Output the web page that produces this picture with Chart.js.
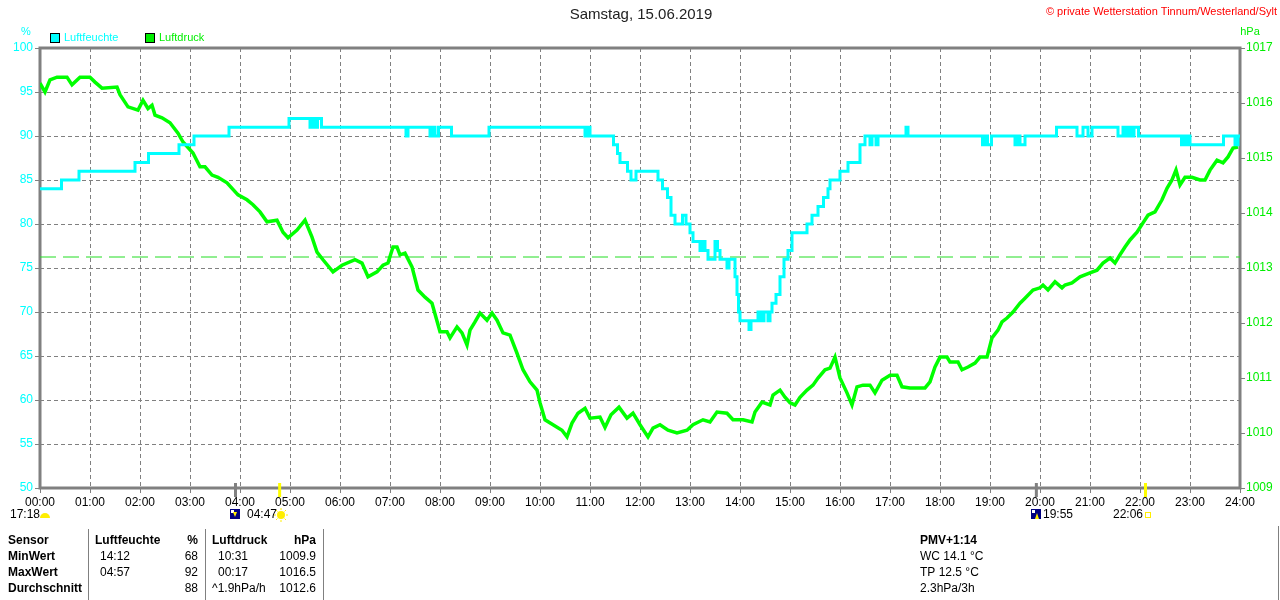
<!DOCTYPE html>
<html>
<head>
<meta charset="utf-8">
<script src="https://cdn.jsdelivr.net/npm/chart.js@4"></script>
<style>
  html, body { margin: 0; padding: 0; background: #fff; }
  #wrap { width: 1280px; height: 600px; position: relative; }
</style>
</head>
<body>
<div id="wrap"><canvas id="chart" width="1280" height="600"></canvas></div>
<script>
// Zeitachse in Stunden (0..24)
const hourTicks = ['00:00','01:00','02:00','03:00','04:00','05:00','06:00','07:00','08:00','09:00','10:00','11:00','12:00',
  '13:00','14:00','15:00','16:00','17:00','18:00','19:00','20:00','21:00','22:00','23:00','24:00'];

// Luftfeuchte (%) - Stufen: Wert gilt ab Zeitpunkt
const humTimes = [0,0.43,0.78,1.9,2.17,2.78,3.08,3.78,4.98,5.4,5.45,5.5,5.55,5.63,7.32,7.36,7.8,7.85,7.9,7.97,8.23,8.98,
  10.9,10.95,11.0,11.47,11.55,11.6,11.75,11.82,11.92,12.36,12.45,12.55,12.62,12.7,12.85,12.92,13.0,13.06,13.2,13.25,13.3,
  13.36,13.5,13.55,13.6,13.74,13.78,13.9,13.94,13.97,14.0,14.18,14.22,14.36,14.42,14.48,14.56,14.6,14.64,14.72,14.8,14.88,
  14.96,15.04,15.34,15.44,15.56,15.67,15.76,15.8,16.0,16.16,16.4,16.5,16.6,16.64,16.72,16.76,17.32,17.36,18.85,18.9,18.95,
  19.03,19.5,19.55,19.6,19.7,20.33,20.74,20.86,20.96,21.04,21.56,21.66,21.72,21.78,21.84,21.88,21.97,22.83,22.88,22.94,
  22.98,23.0,23.67,23.9,23.96,24.0];
const humValues = [84,85,86,87,88,89,90,91,92,91,92,91,92,91,90,91,90,91,90,91,90,91,
  90,91,90,89,88,87,86,85,86,85,84,83,81,80,81,80,79,78,77,78,77,
  76,78,77,76,75,76,74,72,70,69,68,69,70,69,70,69,70,71,72,74,76,
  77,79,80,81,82,83,84,85,86,87,89,90,89,90,89,90,91,90,89,90,89,
  90,89,90,89,90,91,90,91,90,91,90,91,90,91,90,91,90,89,90,89,
  90,89,90,89,90,90];

// Luftdruck (hPa)
const presTimes = [0,0.1,0.2,0.34,0.54,0.64,0.8,1.0,1.1,1.24,1.54,1.6,1.76,1.96,2.06,2.16,2.24,2.3,2.44,2.6,2.76,2.86,3.06,
  3.2,3.3,3.44,3.56,3.74,3.96,4.14,4.26,4.4,4.54,4.74,4.86,4.96,5.14,5.3,5.44,5.54,5.66,5.86,6.04,6.3,6.44,6.56,6.74,6.86,
  6.96,7.06,7.14,7.2,7.3,7.44,7.56,7.7,7.84,8.0,8.14,8.2,8.34,8.44,8.54,8.6,8.7,8.8,8.94,9.04,9.14,9.26,9.4,9.54,9.66,9.8,
  9.94,10.0,10.1,10.26,10.44,10.54,10.64,10.76,10.9,11.0,11.2,11.3,11.42,11.58,11.74,11.86,12.0,12.16,12.26,12.4,12.56,
  12.74,12.94,13.06,13.26,13.4,13.54,13.74,13.86,14.06,14.24,14.3,14.44,14.6,14.66,14.8,14.9,15.0,15.1,15.2,15.34,15.46,
  15.56,15.7,15.8,15.9,16.0,16.14,16.24,16.34,16.46,16.6,16.7,16.84,17.0,17.14,17.24,17.4,17.7,17.8,17.9,18.0,18.14,18.2,
  18.36,18.44,18.56,18.7,18.8,18.94,19.04,19.16,19.24,19.34,19.46,19.6,19.7,19.86,20.0,20.06,20.16,20.3,20.44,20.5,20.64,
  20.8,21.0,21.14,21.26,21.4,21.5,21.6,21.7,21.8,21.94,22.06,22.16,22.3,22.44,22.54,22.64,22.72,22.8,22.9,23.04,23.2,23.3,
  23.4,23.54,23.66,23.76,23.86,23.96];
const presValues = [1016.36,1016.2,1016.42,1016.47,1016.47,1016.33,1016.47,1016.47,1016.38,1016.27,1016.29,1016.15,1015.93,
  1015.87,1016.05,1015.9,1015.96,1015.78,1015.73,1015.64,1015.45,1015.29,1015.09,1014.84,1014.84,1014.69,1014.65,1014.55,
  1014.33,1014.24,1014.15,1014.02,1013.84,1013.87,1013.65,1013.55,1013.69,1013.87,1013.56,1013.29,1013.15,1012.93,1013.05,
  1013.15,1013.09,1012.84,1012.93,1013.05,1013.09,1013.38,1013.38,1013.24,1013.27,1013.02,1012.6,1012.47,1012.36,1011.84,
  1011.84,1011.73,1011.93,1011.82,1011.6,1011.87,1012.02,1012.18,1012.05,1012.18,1012.05,1011.82,1011.78,1011.45,1011.15,
  1010.93,1010.78,1010.55,1010.24,1010.15,1010.05,1009.93,1010.18,1010.36,1010.45,1010.27,1010.29,1010.1,1010.33,1010.47,
  1010.27,1010.36,1010.15,1009.93,1010.09,1010.15,1010.05,1010.0,1010.05,1010.15,1010.24,1010.2,1010.38,1010.36,1010.24,
  1010.24,1010.2,1010.38,1010.56,1010.51,1010.69,1010.78,1010.65,1010.55,1010.51,1010.65,1010.78,1010.87,1011.0,1011.15,
  1011.18,1011.38,1011.0,1010.73,1010.51,1010.84,1010.87,1010.87,1010.73,1010.96,1011.05,1011.05,1010.84,1010.82,1010.82,
  1010.93,1011.2,1011.38,1011.38,1011.29,1011.29,1011.15,1011.2,1011.27,1011.38,1011.38,1011.73,1011.87,1012.02,1012.09,
  1012.2,1012.36,1012.45,1012.6,1012.64,1012.69,1012.6,1012.75,1012.64,1012.69,1012.73,1012.84,1012.91,1012.96,1013.09,
  1013.18,1013.09,1013.24,1013.38,1013.51,1013.65,1013.82,1013.96,1014.02,1014.24,1014.45,1014.6,1014.78,1014.51,1014.65,
  1014.65,1014.6,1014.6,1014.78,1014.96,1014.91,1015.02,1015.18,1015.2];

// Normaldruck-Linie
const normalPressure = 1013.2;

// Sonne / Mond Markierungen (Stunden)
const moonTimes = [3.9, 19.917];
const sunTimes = [4.783, 22.1];

// Tabelle unten
const statRows = ['Sensor', 'MinWert', 'MaxWert', 'Durchschnitt'];
const humStats = [['Luftfeuchte', '%'], ['14:12', '68'], ['04:57', '92'], ['', '88']];
const presStats = [['Luftdruck', 'hPa'], ['10:31', '1009.9'], ['00:17', '1016.5'], ['^1.9hPa/h', '1012.6']];
const extraStats = ['PMV+1:14', 'WC 14.1 °C', 'TP 12.5 °C', '2.3hPa/3h'];

const FONT = '"Liberation Sans", Arial, sans-serif';
const GRID = '#808080';
const CYAN = '#00ffff';
const GREEN = '#00ee00';

const toPoints = (xs, ys) => xs.map((x, i) => ({ x: x, y: ys[i] }));

const decorPlugin = {
    id: 'decor',
    beforeDatasetsDraw(chart) {
        const ctx = chart.ctx;
        const a = chart.chartArea;
        ctx.save();
        ctx.strokeStyle = GRID;
        ctx.lineWidth = 3;
        ctx.strokeRect(a.left, a.top, a.right - a.left, a.bottom - a.top);
        ctx.restore();
    },
    afterDraw(chart) {
        const ctx = chart.ctx;
        const xs = chart.scales.x;
        ctx.save();
        ctx.textBaseline = 'middle';

        // Titel
        ctx.fillStyle = '#222';
        ctx.font = '15px ' + FONT;
        ctx.textAlign = 'center';
        ctx.fillText('Samstag, 15.06.2019', 641, 15);

        // Copyright
        ctx.fillStyle = '#ff0000';
        ctx.font = '11px ' + FONT;
        ctx.textAlign = 'right';
        ctx.fillText('© private Wetterstation Tinnum/Westerland/Sylt', 1277, 12);

        // Einheiten
        ctx.font = '11px ' + FONT;
        ctx.textAlign = 'center';
        ctx.fillStyle = CYAN;
        ctx.fillText('%', 26, 32);
        ctx.fillStyle = GREEN;
        ctx.fillText('hPa', 1250, 32);

        // Legende
        const legend = [[50, CYAN, 'Luftfeuchte'], [145, GREEN, 'Luftdruck']];
        legend.forEach(([lx, col, txt]) => {
            ctx.fillStyle = col;
            ctx.fillRect(lx, 33, 10, 10);
            ctx.strokeStyle = '#000';
            ctx.lineWidth = 1;
            ctx.strokeRect(lx + 0.5, 33.5, 9, 9);
            ctx.textAlign = 'left';
            ctx.fillText(txt, lx + 14, 38);
        });

        // Marker auf der Zeitachse
        moonTimes.forEach(t => {
            const px = xs.getPixelForValue(t);
            ctx.fillStyle = GRID;
            ctx.fillRect(px - 1, 483, 3, 14);
        });
        sunTimes.forEach(t => {
            const px = xs.getPixelForValue(t);
            ctx.fillStyle = '#ffff00';
            ctx.fillRect(px - 1, 483, 3, 14);
        });

        // Zeiten und Symbole
        ctx.font = '12px ' + FONT;
        ctx.fillStyle = '#000';
        ctx.textAlign = 'left';
        ctx.fillText('17:18', 10, 515);
        ctx.fillText('04:47', 247, 515);
        ctx.fillText('19:55', 1043, 515);
        ctx.fillText('22:06', 1113, 515);

        // halbe Sonne
        ctx.fillStyle = '#ffee00';
        ctx.beginPath();
        ctx.arc(45, 518, 5, Math.PI, 0);
        ctx.fill();
        // Sonne
        ctx.beginPath();
        ctx.arc(281, 515, 4, 0, Math.PI * 2);
        ctx.fill();
        ctx.strokeStyle = '#ffee00';
        ctx.lineWidth = 1;
        for (let k = 0; k < 8; k++) {
            const ang = k * Math.PI / 4;
            ctx.beginPath();
            ctx.moveTo(281 + Math.cos(ang) * 5, 515 + Math.sin(ang) * 5);
            ctx.lineTo(281 + Math.cos(ang) * 7, 515 + Math.sin(ang) * 7);
            ctx.stroke();
        }
        // Quadrat Sonnenuntergang
        ctx.strokeRect(1145.5, 512.5, 5, 5);

        // Mond-Symbole
        [[230, 'down'], [1031, 'up']].forEach(([mx, dir]) => {
            ctx.fillStyle = '#000080';
            ctx.fillRect(mx, 509, 10, 10);
            ctx.fillStyle = '#ffffff';
            ctx.fillRect(mx + 1, 510, 3, 3);
            ctx.fillStyle = '#ffee00';
            ctx.beginPath();
            if (dir === 'down') {
                ctx.moveTo(mx + 3, 512); ctx.lineTo(mx + 7, 512); ctx.lineTo(mx + 5, 517);
            } else {
                ctx.moveTo(mx + 4, 519); ctx.lineTo(mx + 8, 519); ctx.lineTo(mx + 6, 513);
            }
            ctx.fill();
        });

        // Tabelle
        ctx.strokeStyle = GRID;
        ctx.lineWidth = 1;
        [88, 205, 323, 1278].forEach(lx => {
            ctx.beginPath();
            ctx.moveTo(lx + 0.5, lx === 1278 ? 526 : 529);
            ctx.lineTo(lx + 0.5, 600);
            ctx.stroke();
        });

        statRows.forEach((label, i) => {
            const y = 541 + i * 16;
            ctx.fillStyle = '#000';
            ctx.font = 'bold 12px ' + FONT;
            ctx.textAlign = 'left';
            ctx.fillText(label, 8, y);

            ctx.font = (i === 0 ? 'bold ' : '') + '12px ' + FONT;
            ctx.textAlign = 'left';
            ctx.fillText(humStats[i][0], i === 0 ? 95 : 100, y);
            ctx.textAlign = 'right';
            ctx.fillText(humStats[i][1], 198, y);

            ctx.textAlign = 'left';
            ctx.fillText(presStats[i][0], i === 0 || i === 3 ? 212 : 218, y);
            ctx.textAlign = 'right';
            ctx.fillText(presStats[i][1], 316, y);

            ctx.font = (i === 0 ? 'bold ' : '') + '12px ' + FONT;
            ctx.textAlign = 'left';
            ctx.fillText(extraStats[i], 920, y);
        });

        ctx.restore();
    }
};

const ctx = document.getElementById('chart').getContext('2d');
new Chart(ctx, {
    type: 'line',
    data: {
        datasets: [
            {
                label: 'Luftfeuchte',
                data: toPoints(humTimes, humValues),
                borderColor: CYAN,
                borderWidth: 3,
                stepped: 'before',
                pointRadius: 0,
                yAxisID: 'yHum'
            },
            {
                label: 'Luftdruck',
                data: toPoints(presTimes, presValues),
                borderColor: '#00ff00',
                borderWidth: 3.5,
                pointRadius: 0,
                tension: 0,
                yAxisID: 'yPres'
            },
            {
                label: 'Normaldruck',
                data: [{ x: 0, y: normalPressure }, { x: 24, y: normalPressure }],
                borderColor: '#22dd22',
                borderWidth: 1,
                borderDash: [16, 7],
                pointRadius: 0,
                yAxisID: 'yPres',
                order: 5
            }
        ]
    },
    options: {
        responsive: false,
        animation: false,
        events: [],
        layout: { padding: { top: 48, bottom: 88, left: 0, right: 0 } },
        plugins: {
            legend: { display: false },
            title: { display: false },
            tooltip: { enabled: false }
        },
        scales: {
            x: {
                type: 'linear',
                min: 0,
                max: 24,
                afterBuildTicks: scale => {
                    scale.ticks = hourTicks.map((t, i) => ({ value: i }));
                },
                afterFit: scale => { scale.height = 24; },
                ticks: {
                    color: '#000',
                    font: { family: FONT, size: 12 },
                    padding: 2,
                    maxRotation: 0,
                    autoSkip: false,
                    callback: (v) => hourTicks[v]
                },
                grid: {
                    color: GRID,
                    tickLength: 5,
                    tickBorderDash: [],
                    tickColor: GRID,
                    tickWidth: 1
                },
                border: { display: false, dash: [4, 3] }
            },
            yHum: {
                position: 'left',
                min: 50,
                max: 100,
                afterFit: scale => { scale.width = 40; },
                ticks: {
                    stepSize: 5,
                    color: CYAN,
                    font: { family: FONT, size: 12 },
                    padding: 2
                },
                grid: {
                    color: GRID,
                    tickLength: 5,
                    tickBorderDash: [],
                    tickColor: GRID,
                    tickWidth: 1
                },
                border: { display: false, dash: [4, 3] }
            },
            yPres: {
                position: 'right',
                min: 1009,
                max: 1017,
                afterFit: scale => { scale.width = 40; },
                ticks: {
                    stepSize: 1,
                    color: GREEN,
                    font: { family: FONT, size: 12 },
                    padding: 1,
                    callback: (v) => String(v)
                },
                grid: {
                    drawOnChartArea: false,
                    tickLength: 5,
                    tickColor: GRID,
                    tickWidth: 1
                },
                border: { display: false }
            }
        }
    },
    plugins: [decorPlugin]
});
</script>
</body>
</html>
